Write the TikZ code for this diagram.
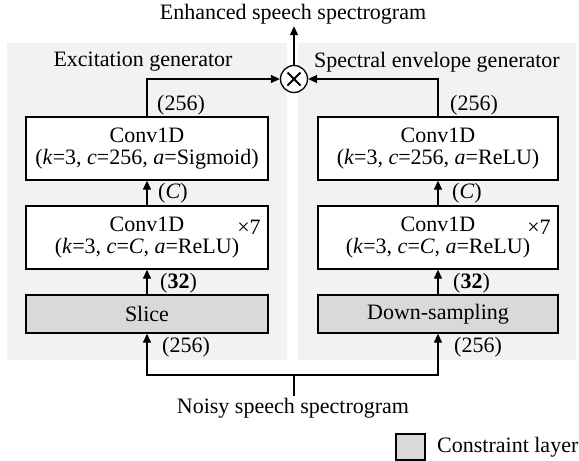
\documentclass[tikz,border=0pt]{standalone}
\usepackage{fontspec}
\setmainfont{Liberation Serif}
\usetikzlibrary{arrows.meta}
\definecolor{panelgray}{HTML}{F2F2F2}
\definecolor{constgray}{HTML}{D9D9D9}
\begin{document}
\begin{tikzpicture}[x=1pt,y=-1pt,
  font=\fontsize{22}{22.5}\selectfont,
  every node/.style={inner sep=0pt},
  panel/.style={fill=panelgray,draw=none},
  layerbox/.style={draw,line width=1.3pt,fill=white,align=center,minimum height=63pt},
  constbox/.style={draw,line width=1.3pt,fill=constgray,minimum height=38pt},
  arr/.style={line width=1.3pt,-{Triangle[length=9pt,width=8pt]}},
  conn/.style={line width=1.3pt},
  lbl/.style={anchor=west}]
\useasboundingbox (0,0) rectangle (579,461);
% panels
\node[panel,minimum width=280pt,minimum height=317pt] (panelL) at (147,201.5) {};
\node[panel,minimum width=278pt,minimum height=317pt] (panelR) at (437,201.5) {};
% titles
\node (titleL) at (143,62) {Excitation generator};
\node (titleR) at (437,62) {Spectral envelope generator};
\node[inner sep=2pt] (out) at (293,14) {Enhanced speech spectrogram};
% left column
\node[layerbox,minimum width=242pt] (convL1) at (147,148.5) {Conv1D\\(\textit{k}=3, \textit{c}=256, \textit{a}=Sigmoid)};
\node[layerbox,minimum width=242pt] (convL2) at (147,237.5) {Conv1D\\(\textit{k}=3, \textit{c}=\textit{C}, \textit{a}=ReLU)};
\node[constbox,minimum width=242pt] (sliceL) at (147,314) {Slice};
\node (repL) at (249,227) {×7};
% right column
\node[layerbox,minimum width=240pt] (convR1) at (438,148.5) {Conv1D\\(\textit{k}=3, \textit{c}=256, \textit{a}=ReLU)};
\node[layerbox,minimum width=240pt] (convR2) at (438,237.5) {Conv1D\\(\textit{k}=3, \textit{c}=\textit{C}, \textit{a}=ReLU)};
\node[constbox,minimum width=240pt] (downR) at (438,314) {Down-sampling};
\node (repR) at (539,227) {×7};
% multiplier
\node[circle,draw,line width=1.3pt,minimum size=27pt,fill=white,
  path picture={\draw[line width=2pt] ([shift={(-6.5pt,-6.5pt)}]path picture bounding box.center) -- ([shift={(6.5pt,6.5pt)}]path picture bounding box.center);
                \draw[line width=2pt] ([shift={(-6.5pt,6.5pt)}]path picture bounding box.center) -- ([shift={(6.5pt,-6.5pt)}]path picture bounding box.center);}] (ot) at (294,79) {};
% input
\node[inner sep=2pt] (noisy) at (293,408) {Noisy speech spectrogram};
\coordinate (join) at (294,375);
% connectors
\draw[conn] (join) -- (join |- noisy.north);
\draw[arr] (join) -| (sliceL.south);
\draw[arr] (join) -| (downR.south);
\draw[arr] (sliceL.north) -- (convL2.south);
\draw[arr] (convL2.north) -- (convL1.south);
\draw[arr] (convL1.north) |- (ot.west);
\draw[arr] (downR.north) -- (convR2.south);
\draw[arr] (convR2.north) -- (convR1.south);
\draw[arr] (convR1.north) |- (ot.east);
\draw[arr] (ot.north) -- (ot.north |- out.south);
% labels
\node[lbl] (l256a) at (157,105) {(256)};
\node[lbl] (lCa) at (158,193) {(\textit{C})};
\node[lbl] (l32a) at (160,283) {(\textbf{32})};
\node[lbl] (l256b) at (162,347) {(256)};
\node[lbl] (l256c) at (450,105) {(256)};
\node[lbl] (lCb) at (452,193) {(\textit{C})};
\node[lbl] (l32b) at (453,283) {(\textbf{32})};
\node[lbl] (l256d) at (454,347) {(256)};
% legend
\node[draw,line width=1.3pt,fill=constgray,minimum width=29pt,minimum height=26pt] (legbox) at (410.5,447) {};
\node[anchor=west] (legtxt) at (437,447) {Constraint layer};
\end{tikzpicture}
\end{document}
